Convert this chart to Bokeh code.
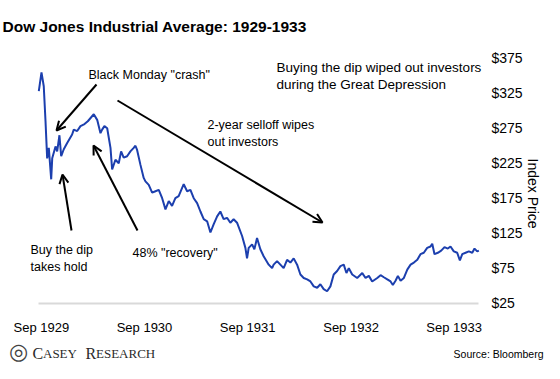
import numpy as np
import pandas as pd
from bokeh.plotting import figure
from bokeh.models import (Range1d, Label, Arrow, OpenHead, FixedTicker,
                          DatetimeTickFormatter, NumeralTickFormatter, ColumnDataSource)
from bokeh.embed import file_html
from bokeh.resources import INLINE

# ---- data (decimal years, index level) ----
dates_decimal = [1929.641, 1929.667, 1929.689, 1929.706, 1929.722, 1929.738, 1929.761, 1929.771, 1929.803, 1929.819,
                 1929.841, 1929.858, 1929.883, 1929.916, 1929.964, 1929.980, 1930.013, 1930.045, 1930.084, 1930.116,
                 1930.174, 1930.207, 1930.239, 1930.255, 1930.277, 1930.304, 1930.336, 1930.352, 1930.384, 1930.416,
                 1930.439, 1930.464, 1930.497, 1930.529, 1930.561, 1930.578, 1930.594, 1930.626, 1930.658, 1930.675,
                 1930.707, 1930.740, 1930.772, 1930.804, 1930.837, 1930.869, 1930.901, 1930.933, 1930.965, 1930.997,
                 1931.046, 1931.079, 1931.111, 1931.143, 1931.176, 1931.208, 1931.240, 1931.273, 1931.305, 1931.337,
                 1931.370, 1931.401, 1931.433, 1931.466, 1931.498, 1931.530, 1931.563, 1931.612, 1931.644, 1931.660,
                 1931.676, 1931.709, 1931.731, 1931.757, 1931.789, 1931.821, 1931.870, 1931.903, 1931.918, 1931.951,
                 1931.983, 1932.015, 1932.048, 1932.080, 1932.112, 1932.145, 1932.177, 1932.209, 1932.242, 1932.274,
                 1932.306, 1932.339, 1932.370, 1932.402, 1932.435, 1932.467, 1932.499, 1932.532, 1932.564, 1932.596,
                 1932.622, 1932.645, 1932.678, 1932.726, 1932.775, 1932.807, 1932.839, 1932.871, 1932.920, 1932.952,
                 1932.984, 1933.017, 1933.049, 1933.071, 1933.097, 1933.120, 1933.146, 1933.178, 1933.211, 1933.243,
                 1933.275, 1933.308, 1933.339, 1933.371, 1933.404, 1933.436, 1933.453, 1933.475, 1933.507, 1933.540,
                 1933.572, 1933.604, 1933.630, 1933.662, 1933.695, 1933.721, 1933.744, 1933.776, 1933.808, 1933.841,
                 1933.863, 1933.889, 1933.905]
dow_values = [328, 355, 335, 285, 232, 247, 202, 232, 249, 242,
              265, 235, 245, 254, 266, 273, 271, 278, 281, 285,
              295, 287, 268, 273, 278, 275, 247, 216, 230, 225,
              242, 233, 235, 242, 247, 250, 244, 223, 204, 199,
              194, 183, 185, 187, 175, 159, 171, 164, 175, 178,
              195, 185, 187, 175, 168, 156, 145, 142, 126, 138,
              149, 156, 145, 147, 140, 145, 140, 121, 104, 89,
              104, 109, 102, 118, 102, 92, 80, 75, 80, 85,
              80, 75, 87, 83, 89, 80, 66, 61, 59, 56,
              49, 47, 52, 45, 42, 49, 66, 71, 78, 80,
              68, 75, 66, 61, 68, 61, 64, 56, 61, 65,
              62, 59, 56, 51, 57, 64, 57, 61, 73, 80,
              83, 87, 95, 97, 104, 106, 110, 95, 97, 100,
              105, 103, 106, 99, 97, 86, 95, 97, 99, 97,
              103, 99, 100]
price_ticks = [25, 75, 125, 175, 225, 275, 325, 375]
date_ticks = ["1929-09-01", "1930-09-01", "1931-09-01", "1932-09-01", "1933-09-01"]

SANS = "'Liberation Sans', Arial, sans-serif"
SERIF = "'Liberation Serif', serif"


def dec_to_ts(y):
    yr = int(np.floor(y))
    a = pd.Timestamp(year=yr, month=1, day=1)
    b = pd.Timestamp(year=yr + 1, month=1, day=1)
    return a + (b - a) * (y - yr)


def ms(ts):
    return pd.Timestamp(ts).value / 1e6


W, H = 544, 363
# where the data window sits on the canvas (px) and what it spans
BOX_L, BOX_R, BOX_T, BOX_B = 38, 478, 48, 303
YR_L, YR_R = 1929.638, 1933.9015
V_B, V_T = 24.5, 389.0

ms_L, ms_R = ms(dec_to_ts(YR_L)), ms(dec_to_ts(YR_R))
kx = (ms_R - ms_L) / (BOX_R - BOX_L)
ky = (V_T - V_B) / (BOX_B - BOX_T)
x_start, x_end = ms_L - BOX_L * kx, ms_R + (W - BOX_R) * kx
y_start, y_end = V_B - (H - BOX_B) * ky, V_T + BOX_T * ky


def dx(px):
    return x_start + px * kx


def dy(py):
    return y_end - py * ky


p = figure(width=W, height=H, x_axis_type="datetime", y_axis_location="right",
           x_range=Range1d(x_start, x_end), y_range=Range1d(y_start, y_end),
           output_backend="svg", toolbar_location=None, min_border=0)
p.title.visible = False
p.grid.visible = False
p.outline_line_color = None
p.background_fill_color = "white"
p.border_fill_color = "white"

src = ColumnDataSource(dict(x=pd.to_datetime([dec_to_ts(d) for d in dates_decimal]), y=dow_values))
p.line("x", "y", source=src, line_color="#1c3fae", line_width=2)

xa = p.xaxis[0]
xa.fixed_location = V_B
xa.bounds = (ms_L, ms_R)
xa.ticker = FixedTicker(ticks=[ms(d) for d in date_ticks])
xa.formatter = DatetimeTickFormatter(years="%b %Y", months="%b %Y", days="%b %Y",
                                     hours="%b %Y", minutes="%b %Y")
xa.major_tick_line_color = None
xa.minor_tick_line_color = None
xa.axis_line_color = "#d9d9d9"
xa.axis_line_width = 2
xa.major_label_text_font = SANS
xa.major_label_text_font_size = "13px"
xa.major_label_text_color = "black"
xa.major_label_standoff = 10

ya = p.yaxis[0]
ya.fixed_location = ms_R
ya.ticker = FixedTicker(ticks=price_ticks)
ya.formatter = NumeralTickFormatter(format="$0")
ya.axis_line_color = None
ya.major_tick_line_color = None
ya.minor_tick_line_color = None
ya.major_label_text_font = SANS
ya.major_label_text_font_size = "14px"
ya.major_label_text_color = "black"
ya.major_label_standoff = 7


def lab(text, px, py, size, style="normal", align="left", font=SANS, angle=0.0, color="black"):
    p.add_layout(Label(x=dx(px), y=dy(py), text=text, text_font=font, text_font_size=size,
                       text_font_style=style, text_align=align, text_baseline="alphabetic",
                       angle=angle, text_color=color))


lab("Dow Jones Industrial Average: 1929-1933", 2, 26, "15.5px", style="bold")
lab("Buying the dip wiped out investors", 276, 67, "13.5px")
lab("during the Great Depression", 276, 84, "13.5px")
lab('Black Monday "crash"', 88, 74, "12.5px")
lab("2-year selloff wipes", 207, 124, "12.5px")
lab("out investors", 207, 141, "12.5px")
lab("Buy the dip", 30, 249, "12.5px")
lab("takes hold", 30, 266, "12.5px")
lab('48% "recovery"', 132, 252, "12.5px")
lab("Index Price", 532, 158, "14px", angle=-np.pi / 2)
lab("Source: Bloomberg", 543, 353, "10.5px", align="right")

# logo
lab("\u25ce", 18, 351, "22px", font="'DejaVu Sans', sans-serif", color="#444444", align="center")
lab("C", 32, 353, "16px", font=SERIF, color="#2a2a2a")
lab("ASEY", 42.5, 353, "13px", font=SERIF, color="#2a2a2a")
lab("R", 85, 353, "16px", font=SERIF, color="#2a2a2a")
lab("ESEARCH", 95.5, 353, "13px", font=SERIF, color="#2a2a2a")

arrows = [((96, 84), (56, 130)),
          ((71, 230), (62, 174)),
          ((137, 230), (93, 145)),
          ((117, 100), (322, 222))]
for (sx, sy), (ex, ey) in arrows:
    p.add_layout(Arrow(end=OpenHead(size=9, line_width=2, line_color="black"),
                       x_start=dx(sx), y_start=dy(sy), x_end=dx(ex), y_end=dy(ey),
                       line_width=2, line_color="black"))

open("out.html", "w").write(file_html(p, INLINE))
